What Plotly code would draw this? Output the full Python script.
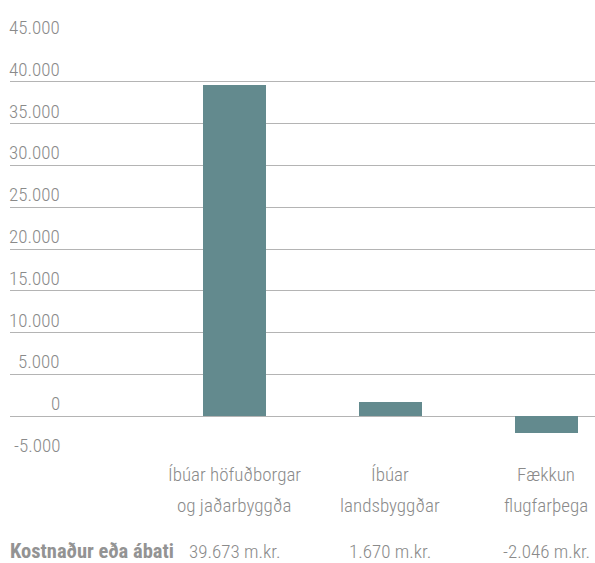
import plotly.graph_objects as go

# Chart data
categories = ["Íbúar höfuðborgar og jaðarbyggða", "Íbúar landsbyggðar", "Fækkun flugfarþega"]
label_lines = [["Íbúar höfuðborgar", "og jaðarbyggða"], ["Íbúar", "landsbyggðar"], ["Fækkun", "flugfarþega"]]
values = [39673, 1670, -2046]
y_ticks = [-5000, 0, 5000, 10000, 15000, 20000, 25000, 30000, 35000, 40000, 45000]
row_title = "Kostnaður eða ábati"
unit = "m.kr."

FONT = "Roboto Condensed, Liberation Sans Narrow, DejaVu Sans Condensed, sans-serif"
TEXT = "#8a8a8a"
BAR = "#638a8e"
GRID = "#b4b4b4"
W, H = 595, 563
T, B = 40, 105


def fmt(v):
    return f"{v:,}".replace(",", ".")


label_font = dict(family=FONT, size=19, color=TEXT, weight=300)

fig = go.Figure(
    go.Bar(
        x=categories,
        y=values,
        marker=dict(color=BAR, line=dict(width=0)),
        width=0.404,
        hoverinfo="skip",
    )
)

annotations = []
# y tick labels sit just above their gridlines
for v in y_ticks:
    annotations.append(dict(
        x=62 / W, xref="paper", xanchor="right",
        y=v, yref="y", yanchor="bottom", yshift=-1,
        text=fmt(v), showarrow=False, font=label_font,
    ))

# two-line category labels and value row under the plot
for cat, lines, v in zip(categories, label_lines, values):
    for i, line in enumerate(lines):
        annotations.append(dict(
            x=cat, xref="x", xanchor="center",
            y=-0.040 - 0.074 * i, yref="paper", yanchor="middle",
            text=line, showarrow=False, font=label_font,
        ))
    annotations.append(dict(
        x=cat, xref="x", xanchor="center",
        y=-0.223, yref="paper", yanchor="middle",
        text=f"{fmt(v)} {unit}", showarrow=False, font=label_font,
    ))

annotations.append(dict(
    x=8 / W, xref="paper", xanchor="left",
    y=-0.223, yref="paper", yanchor="middle",
    text=f"<b>{row_title}</b>", showarrow=False,
    font=dict(family=FONT, size=20.5, color="#939393"),
))

fig.update_layout(
    width=W, height=H,
    margin=dict(l=0, r=0, t=T, b=B),
    paper_bgcolor="white", plot_bgcolor="white",
    showlegend=False,
    bargap=0,
    annotations=annotations,
    xaxis=dict(
        domain=[10 / W, 1],
        range=[-1.436, 2.314],
        showticklabels=False, showgrid=False, zeroline=False, showline=False,
        ticks="",
    ),
    yaxis=dict(
        range=[-5000, 45000],
        tickvals=y_ticks,
        showticklabels=False,
        showgrid=True, gridcolor=GRID, gridwidth=1.2,
        zeroline=True, zerolinecolor=GRID, zerolinewidth=1.2,
        showline=False, ticks="",
    ),
)

fig.write_html("out.html")
